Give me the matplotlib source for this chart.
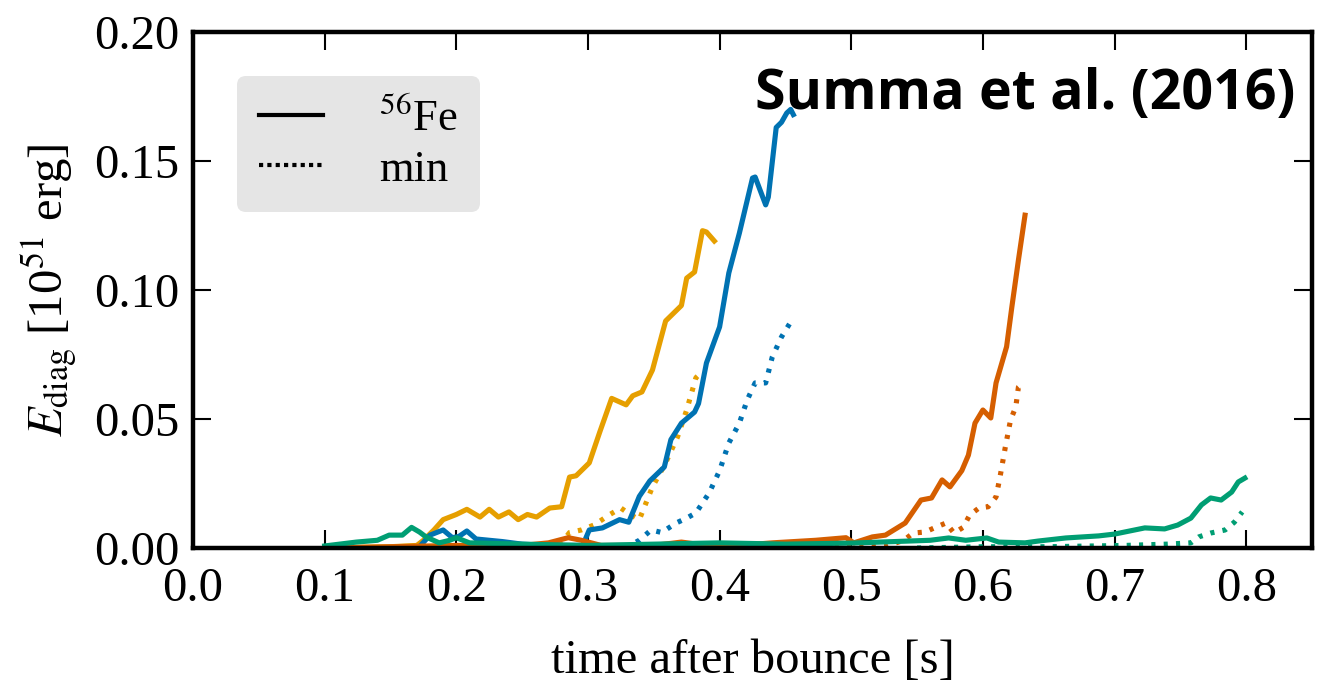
import matplotlib
matplotlib.use("Agg")
import matplotlib.pyplot as plt
from matplotlib.lines import Line2D

# serif look like the original (Times-ish)
plt.rcParams['font.family'] = ['Liberation Serif', 'DejaVu Serif']
plt.rcParams['mathtext.fontset'] = 'stix'

# --- data ---
# model 1 (orange)
t_or = [0.10, 0.15, 0.17, 0.175, 0.183, 0.19, 0.20, 0.208, 0.218, 0.225, 0.232, 0.24, 0.247, 0.254,
        0.261, 0.271, 0.28, 0.286, 0.291, 0.301, 0.309, 0.318, 0.329, 0.334, 0.341, 0.349, 0.359,
        0.371, 0.375, 0.381, 0.387, 0.39, 0.396]
e_or = [0.0, 0.0005, 0.001, 0.003, 0.007, 0.011, 0.013, 0.015, 0.012, 0.015, 0.012, 0.014, 0.011, 0.013,
        0.012, 0.0155, 0.016, 0.0275, 0.028, 0.033, 0.045, 0.058, 0.0555, 0.059, 0.0605, 0.069, 0.088,
        0.094, 0.1046, 0.107, 0.123, 0.1225, 0.119]
t_or_min = [0.25, 0.27, 0.28, 0.286, 0.295, 0.305, 0.316, 0.325, 0.332, 0.339, 0.349, 0.359, 0.368,
            0.375, 0.382, 0.386]
e_or_min = [0.0, 0.0005, 0.002, 0.006, 0.007, 0.009, 0.0128, 0.0155, 0.013, 0.011, 0.0237, 0.033, 0.043,
            0.0535, 0.066, 0.068]

# model 2 (blue)
t_bl = [0.10, 0.16, 0.172, 0.18, 0.19, 0.197, 0.202, 0.208, 0.215, 0.225, 0.235, 0.25, 0.27, 0.29,
        0.296, 0.301, 0.311, 0.324, 0.331, 0.339, 0.347, 0.358, 0.363, 0.371, 0.381, 0.384, 0.39, 0.40,
        0.407, 0.415, 0.425, 0.427, 0.435, 0.437, 0.443, 0.447, 0.451, 0.454, 0.456]
e_bl = [0.0, 0.0, 0.0005, 0.005, 0.007, 0.004, 0.0045, 0.0066, 0.0035, 0.003, 0.0025, 0.0015, 0.001, 0.001,
        0.001, 0.007, 0.0078, 0.011, 0.010, 0.02, 0.026, 0.0314, 0.042, 0.0484, 0.0527, 0.056, 0.0717, 0.0857,
        0.1066, 0.122, 0.1434, 0.1438, 0.133, 0.136, 0.163, 0.165, 0.1686, 0.170, 0.168]
t_bl_min = [0.30, 0.33, 0.339, 0.348, 0.356, 0.367, 0.375, 0.382, 0.392, 0.40, 0.407, 0.415, 0.421,
            0.427, 0.435, 0.44, 0.447, 0.454]
e_bl_min = [0.0, 0.0005, 0.003, 0.007, 0.006, 0.0097, 0.0116, 0.0136, 0.0213, 0.030, 0.0407, 0.0484, 0.0574,
            0.064, 0.064, 0.074, 0.0818, 0.0876]

# model 3 (vermillion)
t_vm = [0.10, 0.15, 0.2, 0.25, 0.27, 0.285, 0.295, 0.31, 0.35, 0.371, 0.39, 0.42, 0.44, 0.473, 0.496,
        0.502, 0.516, 0.526, 0.541, 0.553, 0.561, 0.569, 0.575, 0.584, 0.589, 0.594, 0.60, 0.606, 0.61,
        0.614, 0.618, 0.622, 0.627, 0.632]
e_vm = [0.0, 0.0005, 0.001, 0.001, 0.002, 0.004, 0.003, 0.001, 0.001, 0.0023, 0.001, 0.0012, 0.002, 0.003,
        0.004, 0.002, 0.0043, 0.005, 0.0097, 0.0186, 0.0194, 0.0264, 0.0237, 0.030, 0.036, 0.0484, 0.0535,
        0.0504, 0.064, 0.071, 0.078, 0.0934, 0.1116, 0.129]
t_vm_min = [0.45, 0.5, 0.528, 0.54, 0.547, 0.556, 0.564, 0.572, 0.578, 0.585, 0.59, 0.597, 0.604, 0.61,
            0.613, 0.617, 0.621, 0.625, 0.627, 0.631]
e_vm_min = [0.0, 0.0003, 0.001, 0.003, 0.0058, 0.0062, 0.008, 0.0097, 0.0058, 0.008, 0.0128, 0.0155, 0.016,
            0.0198, 0.0275, 0.039, 0.0496, 0.0547, 0.0624, 0.0643]

# model 4 (green)
t_gr = [0.10, 0.124, 0.14, 0.149, 0.159, 0.166, 0.172, 0.177, 0.187, 0.195, 0.20, 0.21, 0.25, 0.3, 0.35,
        0.4, 0.45, 0.5, 0.56, 0.574, 0.587, 0.603, 0.612, 0.632, 0.642, 0.663, 0.688, 0.70, 0.723, 0.738,
        0.748, 0.758, 0.766, 0.773, 0.781, 0.789, 0.794, 0.799]
e_gr = [0.0008, 0.0023, 0.003, 0.005, 0.005, 0.008, 0.0062, 0.0043, 0.002, 0.003, 0.004, 0.002, 0.0015,
        0.001, 0.0015, 0.002, 0.0015, 0.0019, 0.003, 0.0039, 0.003, 0.0039, 0.0023, 0.002, 0.0027, 0.0039,
        0.0047, 0.0054, 0.0078, 0.0074, 0.0089, 0.0116, 0.0167, 0.0194, 0.0186, 0.0217, 0.0256, 0.0271]
t_gr_min = [0.55, 0.6, 0.65, 0.708, 0.74, 0.758, 0.764, 0.773, 0.784, 0.791, 0.797]
e_gr_min = [0.0, 0.0005, 0.0005, 0.001, 0.0015, 0.002, 0.0043, 0.0058, 0.007, 0.010, 0.014]

col_or = '#E69F00'
col_bl = '#0072B2'
col_vm = '#D55E00'
col_gr = '#009E73'

lw = 3.7
dots = (0, (0.8, 1.6))

fig = plt.figure(figsize=(13.34, 6.87), dpi=100)
ax = fig.add_axes([0.1447, 0.2023, 0.8388, 0.7511])

series = [(t_or, e_or, t_or_min, e_or_min, col_or),
          (t_bl, e_bl, t_bl_min, e_bl_min, col_bl),
          (t_vm, e_vm, t_vm_min, e_vm_min, col_vm),
          (t_gr, e_gr, t_gr_min, e_gr_min, col_gr)]
for t, e, tm, em, c in series:
    ax.plot(tm, em, color=c, lw=lw, linestyle=dots)
    ax.plot(t, e, color=c, lw=lw, solid_joinstyle='round')

ax.set_xlim(0, 0.85)
ax.set_ylim(0, 0.20)
ax.set_xticks([0.0, 0.1, 0.2, 0.3, 0.4, 0.5, 0.6, 0.7, 0.8])
ax.set_yticks([0.0, 0.05, 0.10, 0.15, 0.20])
ax.set_yticklabels(['0.00', '0.05', '0.10', '0.15', '0.20'])

for s in ax.spines.values():
    s.set_linewidth(3.2)
ax.tick_params(direction='in', top=True, right=True, length=13, width=1.5,
               labelsize=35)
ax.tick_params(axis='x', pad=14)
ax.tick_params(axis='y', pad=10)

ax.set_xlabel('time after bounce [s]', fontsize=35, labelpad=20)
ax.set_ylabel(r'$E_\mathrm{diag}$ [10$^{51}$ erg]', fontsize=35, labelpad=10)

handles = [Line2D([], [], color='black', lw=3),
           Line2D([], [], color='black', lw=3, linestyle=(0, (1, 1)))]
leg = ax.legend(handles, [r'$^{56}$Fe', 'min'], loc='upper left',
                bbox_to_anchor=(0.039, 0.915), borderaxespad=0, fontsize=32, frameon=True,
                fancybox=True, framealpha=1, handlelength=1.45, handletextpad=1.25,
                labelspacing=0.22, borderpad=0.5)
leg.get_frame().set_facecolor('#e5e5e5')
leg.get_frame().set_edgecolor('none')

ax.text(0.985, 0.85, 'Summa et al. (2016)', transform=ax.transAxes, ha='right',
        va='baseline', fontsize=40, fontweight='bold',
        family=['Open Sans', 'DejaVu Sans'])

fig.savefig('out.png', dpi=100)
